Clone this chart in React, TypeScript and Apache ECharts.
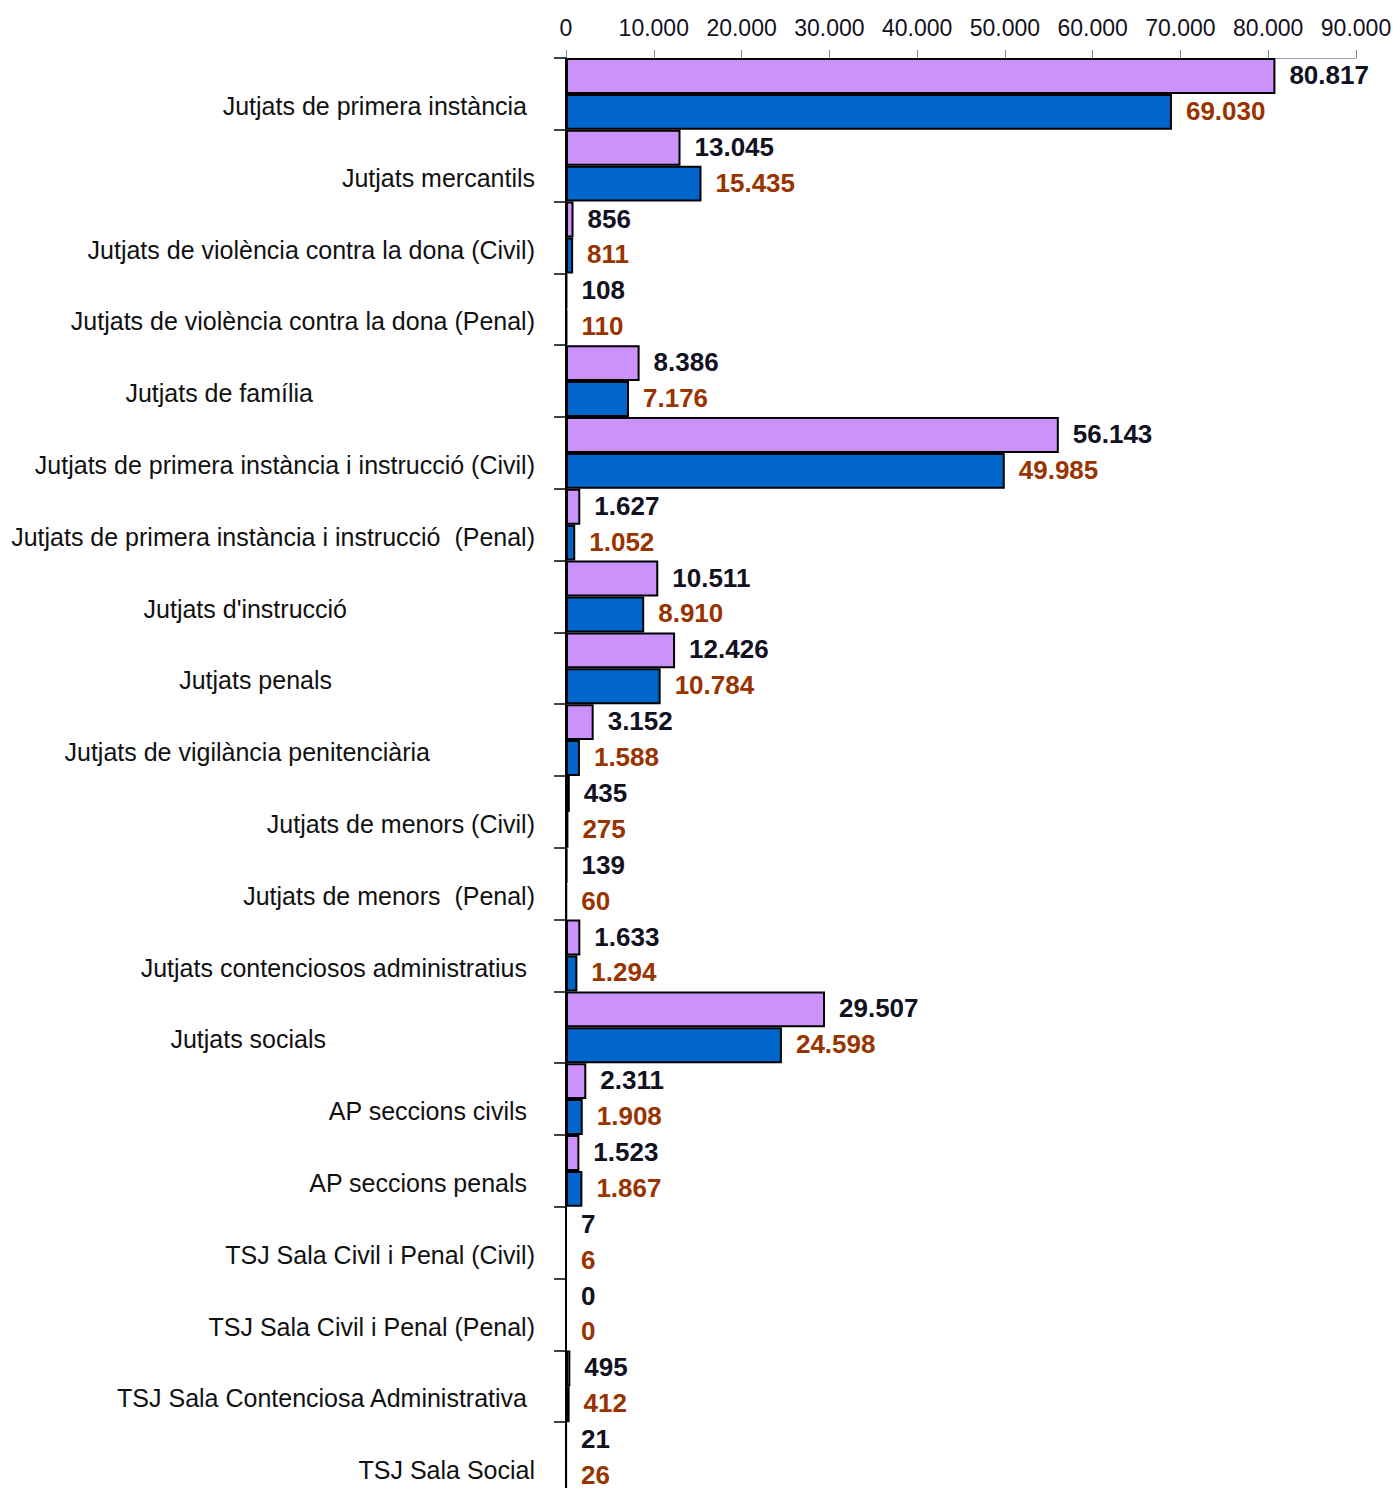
import React, { useEffect, useRef } from "react";
import * as echarts from "echarts";

const categories = [
  "Jutjats de primera instància",
  "Jutjats mercantils",
  "Jutjats de violència contra la dona (Civil)",
  "Jutjats de violència contra la dona (Penal)",
  "Jutjats de família",
  "Jutjats de primera instància i instrucció (Civil)",
  "Jutjats de primera instància i instrucció  (Penal)",
  "Jutjats d'instrucció",
  "Jutjats penals",
  "Jutjats de vigilància penitenciària",
  "Jutjats de menors (Civil)",
  "Jutjats de menors  (Penal)",
  "Jutjats contenciosos administratius",
  "Jutjats socials",
  "AP seccions civils",
  "AP seccions penals",
  "TSJ Sala Civil i Penal (Civil)",
  "TSJ Sala Civil i Penal (Penal)",
  "TSJ Sala Contenciosa Administrativa",
  "TSJ Sala Social",
];

const seriesA = [
  80817, 13045, 856, 108, 8386, 56143, 1627, 10511, 12426, 3152, 435, 139,
  1633, 29507, 2311, 1523, 7, 0, 495, 21,
];

const seriesB = [
  69030, 15435, 811, 110, 7176, 49985, 1052, 8910, 10784, 1588, 275, 60,
  1294, 24598, 1908, 1867, 6, 0, 412, 26,
];

// extra right padding of individual category labels (layout only)
const labelRightPad = [8, 0, 0, 0, 222, 0, 0, 188, 203, 105, 0, 0, 8, 209, 8, 8, 0, 0, 8, 0];

const fmt = (v: number) =>
  String(Math.round(v)).replace(/\B(?=(\d{3})+(?!\d))/g, ".");

const FONT = "'Liberation Sans', Arial, sans-serif";

export default function App() {
  const ref = useRef<HTMLDivElement>(null);
  useEffect(() => {
    if (!ref.current) return;
    const chart = echarts.init(ref.current, undefined, { renderer: "svg" });
    chart.setOption({
      animation: false,
      backgroundColor: "#ffffff",
      grid: {
        left: 566,
        right: 38,
        top: 58,
        height: 1436,
        containLabel: false,
        outerBoundsMode: "none",
      },
      xAxis: {
        type: "value",
        position: "top",
        min: 0,
        max: 90000,
        interval: 10000,
        splitLine: { show: false },
        axisLine: { show: true, lineStyle: { color: "#a898b8", width: 1 } },
        axisTick: { show: true, length: 8, lineStyle: { color: "#8a8a8a" } },
        axisLabel: {
          color: "#111122",
          fontFamily: FONT,
          fontSize: 23,
          margin: 19,
          formatter: (v: number) => fmt(v),
        },
      },
      yAxis: {
        type: "category",
        inverse: true,
        data: categories.map((c, i) => ({
          value: c,
          textStyle: { padding: [0, labelRightPad[i], 0, 0] },
        })),
        axisLine: { show: true, lineStyle: { color: "#000000", width: 2 } },
        axisTick: {
          show: true,
          length: 12,
          alignWithLabel: false,
          lineStyle: { color: "#000000", width: 1.5 },
        },
        axisLabel: {
          color: "#111111",
          fontFamily: FONT,
          fontSize: 25,
          lineHeight: 24,
          margin: 31,
          formatter: (v: string) => " \n" + v,
        },
      },
      series: [
        {
          type: "bar",
          data: seriesA,
          barGap: "0%",
          barCategoryGap: "0%",
          itemStyle: { color: "#cc92fa", borderColor: "#000000", borderWidth: 2 },
          label: {
            show: true,
            position: "right",
            distance: 14,
            offset: [0, -1],
            color: "#111122",
            fontFamily: FONT,
            fontWeight: "bold",
            fontSize: 26,
            formatter: (p: any) => fmt(p.value),
          },
        },
        {
          type: "bar",
          data: seriesB,
          barGap: "0%",
          barCategoryGap: "0%",
          itemStyle: { color: "#0066cc", borderColor: "#000000", borderWidth: 2 },
          label: {
            show: true,
            position: "right",
            distance: 14,
            offset: [0, -1],
            color: "#993300",
            fontFamily: FONT,
            fontWeight: "bold",
            fontSize: 26,
            formatter: (p: any) => fmt(p.value),
          },
        },
      ],
    });
    return () => chart.dispose();
  }, []);
  return (
    <div
      ref={ref}
      style={{ position: "absolute", left: 0, top: 0, width: 1394, height: 1500 }}
    />
  );
}
